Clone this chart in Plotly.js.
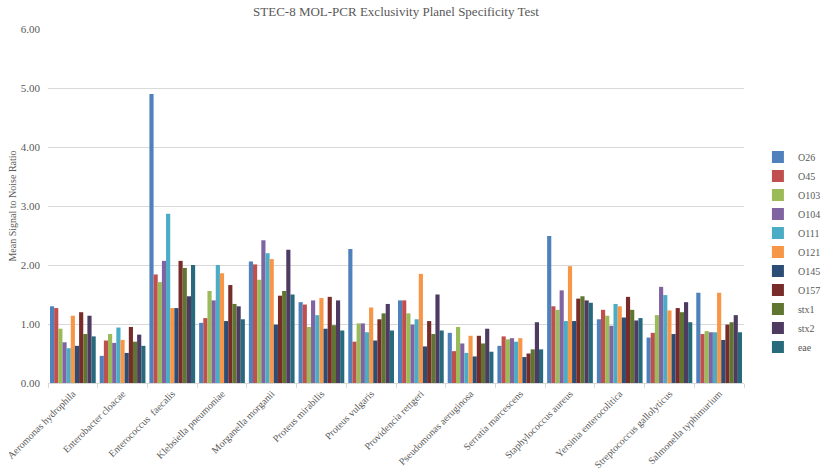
<!DOCTYPE html>
<html>
<head>
<meta charset="utf-8">
<script src="https://cdn.plot.ly/plotly-3.0.1.min.js"></script>
<style>
  html, body { margin: 0; padding: 0; background: #fff; }
  #chart { width: 838px; height: 474px; }
</style>
</head>
<body>
<div id="chart"></div>
<script>
// organisms on the x axis
const organisms = [
  'Aeromonas hydrophila', 'Enterobacter cloacae', 'Enterococcus\u00a0 faecalis',
  'Klebsiella pneumoniae', 'Morganella morganii', 'Proteus mirabilis',
  'Proteus vulgaris', 'Providencia rettgeri', 'Pseudomonas aeruginosa',
  'Serratia marcescens', 'Staphylococcus aureus', 'Yersinia enterocolitica',
  'Streptococcus gallolyticus', 'Salmonella typhimurium'
];

// mean signal to noise ratio per target, one value per organism
const O26  = [1.30, 0.46, 4.90, 1.02, 2.06, 1.37, 2.27, 1.40, 0.85, 0.63, 2.49, 1.08, 0.77, 1.53];
const O45  = [1.27, 0.72, 1.84, 1.10, 2.01, 1.33, 0.70, 1.40, 0.54, 0.79, 1.30, 1.24, 0.85, 0.83];
const O103 = [0.92, 0.83, 1.71, 1.56, 1.75, 0.95, 1.01, 1.18, 0.95, 0.74, 1.24, 1.14, 1.15, 0.88];
const O104 = [0.69, 0.68, 2.07, 1.40, 2.42, 1.40, 1.01, 0.99, 0.67, 0.76, 1.57, 0.97, 1.63, 0.86];
const O111 = [0.59, 0.94, 2.87, 2.00, 2.20, 1.15, 0.86, 1.08, 0.51, 0.70, 1.05, 1.34, 1.49, 0.86];
const O121 = [1.14, 0.73, 1.27, 1.86, 2.10, 1.44, 1.28, 1.85, 0.80, 0.76, 1.98, 1.30, 1.23, 1.53];
const O145 = [0.63, 0.51, 1.27, 1.05, 0.99, 0.92, 0.72, 0.62, 0.45, 0.44, 1.05, 1.11, 0.83, 0.73];
const O157 = [1.20, 0.95, 2.07, 1.66, 1.48, 1.46, 1.08, 1.05, 0.80, 0.50, 1.43, 1.46, 1.27, 0.99];
const stx1 = [0.83, 0.70, 1.95, 1.34, 1.56, 0.98, 1.18, 0.83, 0.67, 0.57, 1.47, 1.24, 1.20, 1.03];
const stx2 = [1.14, 0.82, 1.47, 1.30, 2.26, 1.40, 1.34, 1.50, 0.92, 1.03, 1.40, 1.06, 1.37, 1.15];
const eae  = [0.79, 0.63, 2.00, 1.08, 1.50, 0.89, 0.89, 0.89, 0.53, 0.57, 1.36, 1.10, 1.03, 0.86];

const seriesNames = ['O26', 'O45', 'O103', 'O104', 'O111', 'O121', 'O145', 'O157', 'stx1', 'stx2', 'eae'];
const seriesValues = [O26, O45, O103, O104, O111, O121, O145, O157, stx1, stx2, eae];
const colors = ['#4F81BD', '#C0504D', '#9BBB59', '#8064A2', '#4BACC6', '#F79646',
                '#2C4D75', '#772C2A', '#5F7530', '#4D3B62', '#276A7C'];

const serif = '"Liberation Serif", "Times New Roman", serif';

const traces = seriesNames.map(function(nome, i) {
  return {
    type: 'bar',
    name: nome,
    x: organisms,
    y: seriesValues[i],
    marker: { color: colors[i], line: { width: 0 } },
    hoverinfo: 'x+y+name'
  };
});

const layout = {
  width: 838,
  height: 474,
  margin: { l: 48, r: 56, t: 29, b: 91 },
  paper_bgcolor: '#fff',
  plot_bgcolor: '#fff',
  font: { family: serif, color: '#595959', size: 10 },
  title: {
    text: 'STEC-8 MOL-PCR Exclusivity Planel Specificity Test',
    font: { family: serif, size: 13, color: '#595959' },
    x: 0.5, xref: 'paper', xanchor: 'center',
    y: 0.985, yanchor: 'top'
  },
  barmode: 'group',
  bargap: 0.08,
  bargroupgap: 0,
  showlegend: true,
  legend: {
    x: 1.02, xanchor: 'left',
    y: 0.37, yanchor: 'middle',
    font: { family: serif, size: 10, color: '#595959' },
    itemwidth: 30,
    tracegroupgap: 0
  },
  xaxis: {
    type: 'category',
    tickangle: -45,
    showline: true,
    linecolor: '#D9D9D9',
    ticks: 'outside',
    tickson: 'boundaries',
    ticklen: 4,
    tickcolor: '#D9D9D9',
    tickfont: { family: serif, size: 10, color: '#595959' },
    showgrid: false
  },
  yaxis: {
    range: [0, 6],
    dtick: 1,
    tickformat: '.2f',
    showgrid: true,
    gridcolor: '#D9D9D9',
    zeroline: false,
    showline: false,
    ticklabelstandoff: 7,
    tickfont: { family: serif, size: 11, color: '#595959' },
    title: {
      text: 'Mean Signal to Noise Ratio',
      font: { family: serif, size: 10, color: '#595959' },
      standoff: 2
    }
  }
};

Plotly.newPlot('chart', traces, layout, { displayModeBar: false, staticPlot: true });
</script>
</body>
</html>
